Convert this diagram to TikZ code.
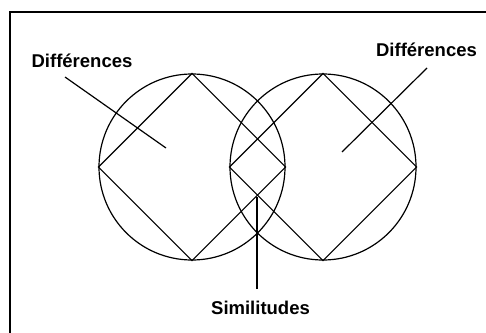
\documentclass[tikz,border=0pt]{standalone}
\usepackage{fontspec}
\setmainfont{Liberation Sans}
\begin{document}
\begin{tikzpicture}[x=1pt,y=-1pt,
  venn/.style={draw,circle,minimum size=186pt,inner sep=0pt,line width=1.2pt},
  lbl/.style={font=\bfseries\fontsize{18.5}{20}\selectfont,inner sep=0pt},
  lead/.style={line width=1.2pt},
  sqline/.style={line width=1.2pt,line join=miter}]
\useasboundingbox (0,0) rectangle (486,332);
\draw[line width=1.8pt] (10,345) -- (10,12) -- (500,12);
\node[venn] (c1) at (192,167) {};
\node[venn] (c2) at (323,167) {};
\draw[sqline] (c1.north) -- (c1.east) -- (c1.south) -- (c1.west) -- cycle;
\draw[sqline] (c2.north) -- (c2.east) -- (c2.south) -- (c2.west) -- cycle;
\node[lbl] (d1) at (82,61) {Différences};
\node[lbl] (d2) at (426.5,50) {Différences};
\node[lbl] (s) at (260.5,308) {Similitudes};
\coordinate (d1s) at (65,77);
\coordinate (d1e) at (166,148);
\coordinate (d2s) at (427,68);
\coordinate (d2e) at (342,152);
\coordinate (ss) at (257,289);
\coordinate (se) at (257,197);
\draw[lead] (d1s) -- (d1e);
\draw[lead] (d2s) -- (d2e);
\draw[lead] (ss) -- (se);
\end{tikzpicture}
\end{document}
